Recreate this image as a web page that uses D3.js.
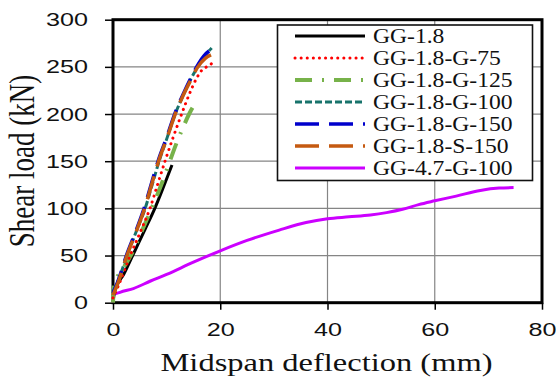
<!DOCTYPE html>
<html><head><meta charset="utf-8">
<script src="https://cdn.jsdelivr.net/npm/d3@7"></script>
<style>
html,body{margin:0;padding:0;background:#fff;}
svg{display:block;font-family:"Liberation Serif","Times New Roman",serif;}
</style></head>
<body>
<svg id="c" width="556" height="377"></svg>
<script>
const seriesNames = ["GG-1.8","GG-1.8-G-75","GG-1.8-G-125","GG-1.8-G-100","GG-1.8-G-150","GG-1.8-S-150","GG-4.7-G-100"];
const colors = ["#000000","#ff0000","#77b24a","#17736b","#0000cc","#c55a11","#cc00ff"];
const dashes = ["none","0.1 6","17 10 2 10","7 3","24 10","24 10","none"];
const caps = ["butt","round","butt","butt","butt","butt","butt"];
const widths = [3,3,4,3,3.5,3.5,3];

// deflection (mm), shear load (kN)
const gg18_x = [0,0.3,2,4,6,7.8,9.5,11];
const gg18_y = [0,12,30,54,78,100,124,146];
const g75_x = [0,1,3.2,5.1,6.9,8.3,9.7,11.2,12.8,14.3,15.5,16.5,17.8,18.7,19.3];
const g75_y = [5,18,50,75,100,125,150,175,200,222,237,246,251,254,254];
const g125_x = [0,0.2,1.5,3.5,5.3,7.2,9,10.6,11.9,13,14.2,15.2,15.9];
const g125_y = [0,20,33,52,75,100,125,150,170,185,200,210,215];
const g100_x = [0,1,2.6,4.3,6,7.3,8.6,10.1,11.6,13.1,14.6,15.8,17.2,18.4];
const g100_y = [12,24,50,75,100,125,150,175,200,220,238,250,262,270];
const g150_x = [0,1,2.5,4.2,5.8,7.1,8.4,10,11.5,13,14.5,15.6,17,18.2];
const g150_y = [10,24,50,75,100,125,150,175,200,220,238,250,262,268];
const s150_x = [0,1,2.6,4.3,5.9,7.2,8.5,10.1,11.6,13.1,14.6,15.7,17.2,18.4];
const s150_y = [8,22,50,75,100,125,150,175,200,220,237,249,259,263];
const g47_x = [0,0.1,1.3,3.8,7,10,15,20,25,31,36,40,44,48,51,54,57,60,64,68.5,72,74.7];
const g47_y = [0,8,11,15,23,30,43,55,66,77,85,89,91,93,95.5,99,104,108,113,119,121.5,122];

const xTicks = [0,20,40,60,80];
const yTicks = [0,50,100,150,200,250,300];
const xTitle = "Midspan deflection (mm)";
const yTitle = "Shear load (kN)";

const data = [
  [gg18_x,gg18_y],[g75_x,g75_y],[g125_x,g125_y],[g100_x,g100_y],
  [g150_x,g150_y],[s150_x,s150_y],[g47_x,g47_y]
].map(([xs,ys])=>xs.map((x,i)=>[x,ys[i]]));

const svg = d3.select("#c");
const x = d3.scaleLinear().domain([0,80]).range([113,542]);
const y = d3.scaleLinear().domain([0,300]).range([302.7,19.7]);

// grid
svg.append("g").selectAll("line").data(xTicks.slice(1,-1)).join("line")
  .attr("x1",d=>x(d)).attr("x2",d=>x(d)).attr("y1",y(300)).attr("y2",y(0))
  .attr("stroke","#858585").attr("stroke-width",1.2);
svg.append("g").selectAll("line").data(yTicks.slice(1,-1)).join("line")
  .attr("y1",d=>y(d)).attr("y2",d=>y(d)).attr("x1",x(0)).attr("x2",x(80))
  .attr("stroke","#858585").attr("stroke-width",1.2);

// axes
const sxTick = 1.4;
const ya = svg.append("g").attr("transform",`translate(${x(0)},0)`)
  .call(d3.axisLeft(y).tickValues(yTicks).tickSize(8).tickFormat(d3.format("d")));
ya.select(".domain").remove();
ya.selectAll("line").attr("stroke","#000").attr("stroke-width",1.5);
ya.selectAll("text").attr("font-size",18).attr("fill","#111")
  .attr("x",-25/sxTick).attr("dy",null).attr("y",6)
  .attr("transform",`scale(${sxTick},1)`);

const xa = svg.append("g").attr("transform",`translate(0,${y(0)})`)
  .call(d3.axisBottom(x).tickValues(xTicks).tickSize(7).tickFormat(d3.format("d")));
xa.select(".domain").remove();
xa.selectAll("line").attr("stroke","#000").attr("stroke-width",1.5);
xa.selectAll("text").attr("font-size",18).attr("fill","#111")
  .attr("dy",null).attr("y",33.5)
  .attr("transform",`scale(${sxTick},1)`);

// frame
svg.append("rect").attr("x",x(0)).attr("y",y(300)).attr("width",x(80)-x(0)).attr("height",y(0)-y(300))
  .attr("fill","none").attr("stroke","#000").attr("stroke-width",3);

// curves
const line = d3.line().x(d=>x(d[0])).y(d=>y(d[1])).curve(d3.curveMonotoneX);
const order = [6,0,2,1,3,4,5];
svg.append("g").selectAll("path").data(order).join("path")
  .attr("d",i=>line(data[i]))
  .attr("fill","none").attr("stroke",i=>colors[i]).attr("stroke-width",i=>widths[i])
  .attr("stroke-dasharray",i=>dashes[i]).attr("stroke-linecap",i=>caps[i])
  .attr("stroke-linejoin","round");

// legend
const lg = svg.append("g");
lg.append("rect").attr("x",277.5).attr("y",25).attr("width",255).attr("height",155.5)
  .attr("fill","#fff").attr("stroke","#111").attr("stroke-width",1.6);
const rowY = i=>36+i*22;
lg.selectAll("line").data(seriesNames.map((n,i)=>i)).join("line")
  .attr("x1",295).attr("x2",365).attr("y1",rowY).attr("y2",rowY)
  .attr("stroke",i=>colors[i]).attr("stroke-width",i=>widths[i])
  .attr("stroke-dasharray",i=>dashes[i]).attr("stroke-linecap",i=>caps[i]);
const sxLeg = 1.18;
lg.selectAll("text").data(seriesNames).join("text")
  .attr("transform",(d,i)=>`translate(373,${rowY(i)+7}) scale(${sxLeg},1)`)
  .attr("font-size",20).attr("fill","#111").text(d=>d);

// titles
svg.append("text").attr("transform",`translate(326.5,371) scale(1.3,1)`)
  .attr("text-anchor","middle").attr("font-size",25).attr("fill","#111").text(xTitle);
svg.append("text").attr("transform",`translate(34,161) rotate(-90) scale(1,1.3)`)
  .attr("text-anchor","middle").attr("font-size",27).attr("fill","#111").text(yTitle);
</script>
</body></html>
